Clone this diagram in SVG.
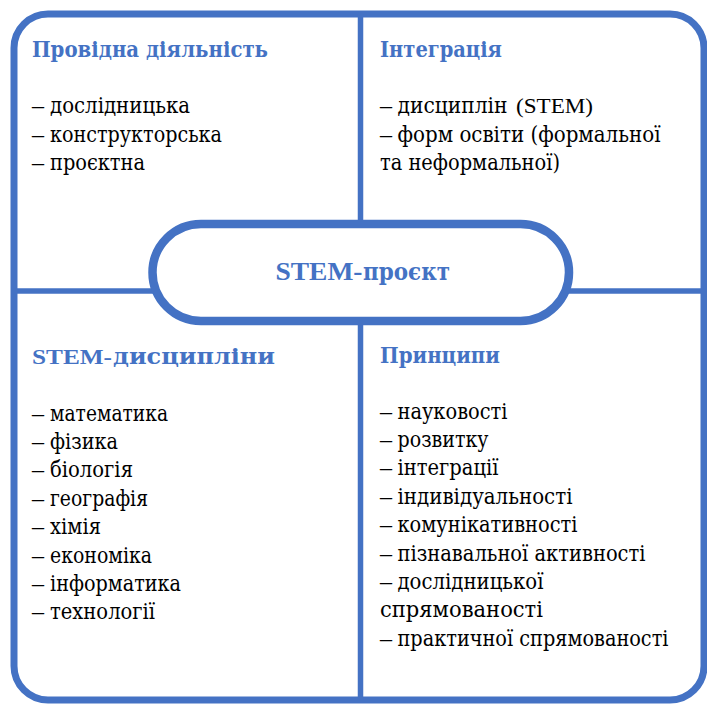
<svg xmlns="http://www.w3.org/2000/svg" width="707" height="709" viewBox="0 0 707 709">
<style>
.frame{fill:#ffffff;stroke:#4472C4;stroke-width:7}
.div{stroke:#4472C4;stroke-width:5.5;fill:none}
.pill{fill:#ffffff;stroke:#4472C4;stroke-width:8.5}
text{font-family:"DejaVu Serif","Liberation Serif",serif}
.hd{font-weight:bold;font-size:22px;fill:#4472C4}
.tt{font-size:22px;fill:#000000}
.ct{font-weight:bold;font-size:25px;fill:#4472C4}
.lat{font-family:"Liberation Serif","Times New Roman",serif}
.dash{font-family:"Liberation Serif","Times New Roman",serif;font-size:24px;fill:#000000}
</style>
<rect width="707" height="709" fill="#ffffff"/>
<g id="frame">
<rect class="frame" x="14" y="14" width="690" height="686" rx="34" ry="34"/>
</g>
<g id="connectors">
<line class="div" x1="360.5" y1="14" x2="360.5" y2="700"/>
<line class="div" x1="14" y1="291" x2="704" y2="291"/>
</g>
<g id="node-activity">
<text class="hd" x="32" y="57" textLength="236" lengthAdjust="spacingAndGlyphs">Провідна діяльність</text>
<text class="dash" x="32" y="113">–</text>
<text class="tt" x="50" y="113" textLength="140" lengthAdjust="spacingAndGlyphs">дослідницька</text>
<text class="dash" x="32" y="141.5">–</text>
<text class="tt" x="50" y="141.5" textLength="172" lengthAdjust="spacingAndGlyphs">конструкторська</text>
<text class="dash" x="32" y="170">–</text>
<text class="tt" x="50" y="170" textLength="95" lengthAdjust="spacingAndGlyphs">проєктна</text>
</g>
<g id="node-integration">
<text class="hd" x="380" y="57" textLength="122" lengthAdjust="spacingAndGlyphs">Інтеграція</text>
<text class="dash" x="380" y="113">–</text>
<text class="tt" x="397.5" y="113" textLength="110" lengthAdjust="spacingAndGlyphs">дисциплін</text>
<text class="tt lat" x="516" y="113" font-size="24" textLength="77" lengthAdjust="spacingAndGlyphs">(STEM)</text>
<text class="dash" x="380" y="141.5">–</text>
<text class="tt" x="397.5" y="141.5" textLength="263" lengthAdjust="spacingAndGlyphs">форм освіти (формальної</text>
<text class="tt" x="380" y="170" textLength="180" lengthAdjust="spacingAndGlyphs">та неформальної)</text>
</g>
<g id="node-disciplines">
<text class="hd lat" x="32" y="364" font-size="24.5" textLength="80" lengthAdjust="spacingAndGlyphs">STEM-</text>
<text class="hd" x="113" y="364" textLength="162" lengthAdjust="spacingAndGlyphs">дисципліни</text>
<text class="dash" x="32" y="420.5">–</text>
<text class="tt" x="50" y="420.5" textLength="118" lengthAdjust="spacingAndGlyphs">математика</text>
<text class="dash" x="32" y="448.9">–</text>
<text class="tt" x="50" y="448.9" textLength="68" lengthAdjust="spacingAndGlyphs">фізика</text>
<text class="dash" x="32" y="477.3">–</text>
<text class="tt" x="50" y="477.3" textLength="83" lengthAdjust="spacingAndGlyphs">біологія</text>
<text class="dash" x="32" y="505.7">–</text>
<text class="tt" x="50" y="505.7" textLength="98" lengthAdjust="spacingAndGlyphs">географія</text>
<text class="dash" x="32" y="534.1">–</text>
<text class="tt" x="50" y="534.1" textLength="51" lengthAdjust="spacingAndGlyphs">хімія</text>
<text class="dash" x="32" y="562.5">–</text>
<text class="tt" x="50" y="562.5" textLength="102" lengthAdjust="spacingAndGlyphs">економіка</text>
<text class="dash" x="32" y="590.9">–</text>
<text class="tt" x="50" y="590.9" textLength="131" lengthAdjust="spacingAndGlyphs">інформатика</text>
<text class="dash" x="32" y="619.3">–</text>
<text class="tt" x="50" y="619.3" textLength="105" lengthAdjust="spacingAndGlyphs">технології</text>
</g>
<g id="node-principles">
<text class="hd" x="380" y="363" textLength="120" lengthAdjust="spacingAndGlyphs">Принципи</text>
<text class="dash" x="380" y="418.5">–</text>
<text class="tt" x="397.5" y="418.5" textLength="110" lengthAdjust="spacingAndGlyphs">науковості</text>
<text class="dash" x="380" y="446.9">–</text>
<text class="tt" x="397.5" y="446.9" textLength="91" lengthAdjust="spacingAndGlyphs">розвитку</text>
<text class="dash" x="380" y="475.3">–</text>
<text class="tt" x="397.5" y="475.3" textLength="101" lengthAdjust="spacingAndGlyphs">інтеграції</text>
<text class="dash" x="380" y="503.7">–</text>
<text class="tt" x="397.5" y="503.7" textLength="175" lengthAdjust="spacingAndGlyphs">індивідуальності</text>
<text class="dash" x="380" y="532.1">–</text>
<text class="tt" x="397.5" y="532.1" textLength="180" lengthAdjust="spacingAndGlyphs">комунікативності</text>
<text class="dash" x="380" y="560.5">–</text>
<text class="tt" x="397.5" y="560.5" textLength="248" lengthAdjust="spacingAndGlyphs">пізнавальної активності</text>
<text class="dash" x="380" y="588.9">–</text>
<text class="tt" x="397.5" y="588.9" textLength="146" lengthAdjust="spacingAndGlyphs">дослідницької</text>
<text class="tt" x="380" y="617.3" textLength="163" lengthAdjust="spacingAndGlyphs">спрямованості</text>
<text class="dash" x="380" y="645.7">–</text>
<text class="tt" x="397.5" y="645.7" textLength="271" lengthAdjust="spacingAndGlyphs">практичної спрямованості</text>
</g>
<g id="node-center">
<rect class="pill" x="152.5" y="224" width="416.5" height="97" rx="48.5" ry="48.5"/>
<text class="ct lat" x="275.5" y="280" font-size="27.5" textLength="87" lengthAdjust="spacingAndGlyphs">STEM-</text>
<text class="ct" x="363" y="280" textLength="87" lengthAdjust="spacingAndGlyphs">проєкт</text>
</g>
</svg>
